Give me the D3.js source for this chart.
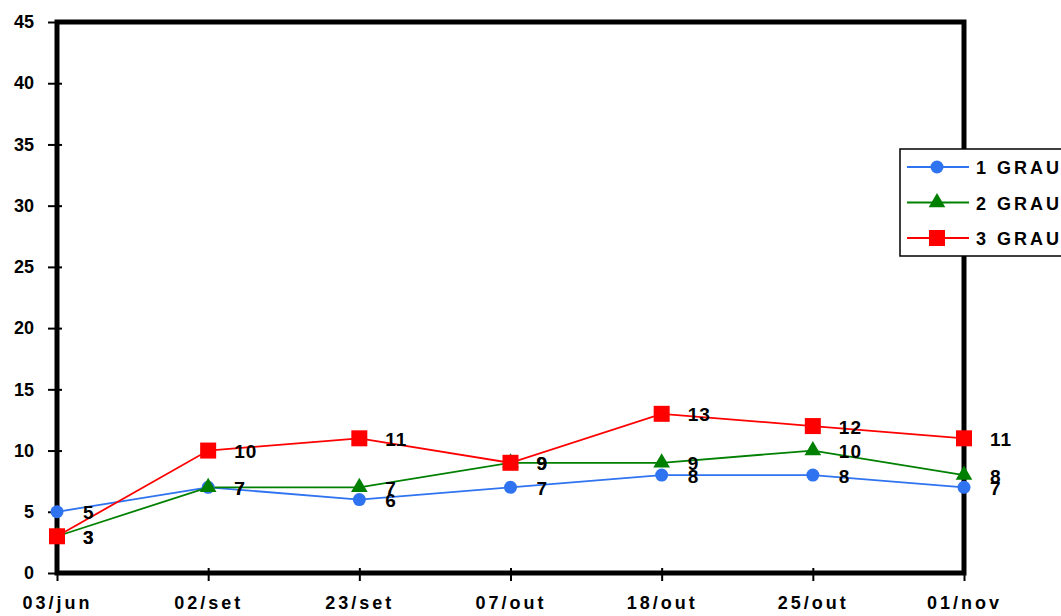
<!DOCTYPE html>
<html><head><meta charset="utf-8">
<script src="https://cdn.jsdelivr.net/npm/d3@7"></script>
<style>
html,body{margin:0;padding:0;background:#fff;}
svg{display:block;font-family:"Liberation Sans",Arial,sans-serif;}
</style></head>
<body><svg id="c" width="1061" height="616"></svg>
<script>
const categories = ["03/jun","02/set","23/set","07/out","18/out","25/out","01/nov"];
const grau1 = [5,7,6,7,8,8,7];
const grau2 = [3,7,7,9,9,10,8];
const grau3 = [3,10,11,9,13,12,11];
const yTicks = [0,5,10,15,20,25,30,35,40,45];
const seriesNames = ["1 GRAU","2 GRAU","3 GRAU"];
const seriesColors = ["#2f73f0","#008000","#ff0000"];
const seriesShapes = ["circle","triangle","square"];

const series = [grau1,grau2,grau3].map((v,i)=>({name:seriesNames[i],values:v,color:seriesColors[i],shape:seriesShapes[i]}));

const svg = d3.select("#c");
const L=57,R=964,T=22,B=573;
const x = d3.scalePoint().domain(categories).range([L,R]);
const y = d3.scaleLinear().domain([0,45]).range([B,T]);

// frame
svg.append("rect").attr("x",L).attr("y",T).attr("width",R-L).attr("height",B-T)
  .attr("fill","none").attr("stroke","#000").attr("stroke-width",5);

// y axis
const ya = svg.append("g").attr("transform",`translate(${L},0)`)
  .call(d3.axisLeft(y).tickValues(yTicks).tickSize(0).tickPadding(23).tickFormat(d3.format("d")));
ya.select(".domain").remove();
ya.selectAll(".tick line").remove();
ya.selectAll(".tick").append("line").attr("x1",-9).attr("x2",5).attr("stroke","#000").attr("stroke-width",2);
ya.selectAll("text").attr("font-size",18).attr("font-weight","bold").attr("fill","#000")
  .attr("font-family","'Liberation Sans',Arial,sans-serif");

// x axis
const xa = svg.append("g").attr("transform",`translate(0,${B})`)
  .call(d3.axisBottom(x).tickSize(0).tickPadding(23));
xa.select(".domain").remove();
xa.selectAll(".tick").append("line").attr("y1",-5).attr("y2",8).attr("stroke","#000").attr("stroke-width",2);
xa.selectAll("text").attr("font-size",18).attr("font-weight","bold").attr("fill","#000")
  .attr("letter-spacing","3px")
  .attr("font-family","'Liberation Sans',Arial,sans-serif");

function marker(g, shape, color){
  if(shape==="circle") g.append("circle").attr("r",6.5).attr("fill",color);
  else if(shape==="square") g.append("rect").attr("x",-8).attr("y",-8).attr("width",16).attr("height",16).attr("fill",color);
  else g.append("path").attr("d",d3.symbol(d3.symbolTriangle,120)()).attr("fill",color);
}

const line = d3.line().x((d,i)=>x(categories[i])).y(d=>y(d));
series.forEach(s=>{
  svg.append("path").datum(s.values).attr("d",line).attr("fill","none")
    .attr("stroke",s.color).attr("stroke-width",1.8);
});
series.forEach(s=>{
  s.values.forEach((v,i)=>{
    const g = svg.append("g").attr("transform",`translate(${x(categories[i])},${y(v)})`);
    marker(g,s.shape,s.color);
  });
});
series.forEach(s=>{
  s.values.forEach((v,i)=>{
    svg.append("text").attr("x",x(categories[i])+26).attr("y",y(v)+7.5)
      .attr("font-size",19).attr("font-weight","bold").attr("letter-spacing","1px")
      .attr("fill","#000").text(v);
  });
});

// legend
const lg = svg.append("g");
lg.append("rect").attr("x",900).attr("y",149).attr("width",170).attr("height",107)
  .attr("fill","#fff").attr("stroke","#000").attr("stroke-width",1.5);
series.forEach((s,i)=>{
  const cy = 167 + i*35.5;
  lg.append("line").attr("x1",907).attr("x2",969).attr("y1",cy).attr("y2",cy)
    .attr("stroke",s.color).attr("stroke-width",1.8);
  const g = lg.append("g").attr("transform",`translate(937,${cy})`);
  marker(g,s.shape,s.color);
  lg.append("text").attr("x",976).attr("y",cy+7).attr("font-size",18).attr("font-weight","bold")
    .attr("letter-spacing","3px").attr("fill","#000").text(s.name);
});
</script></body></html>
